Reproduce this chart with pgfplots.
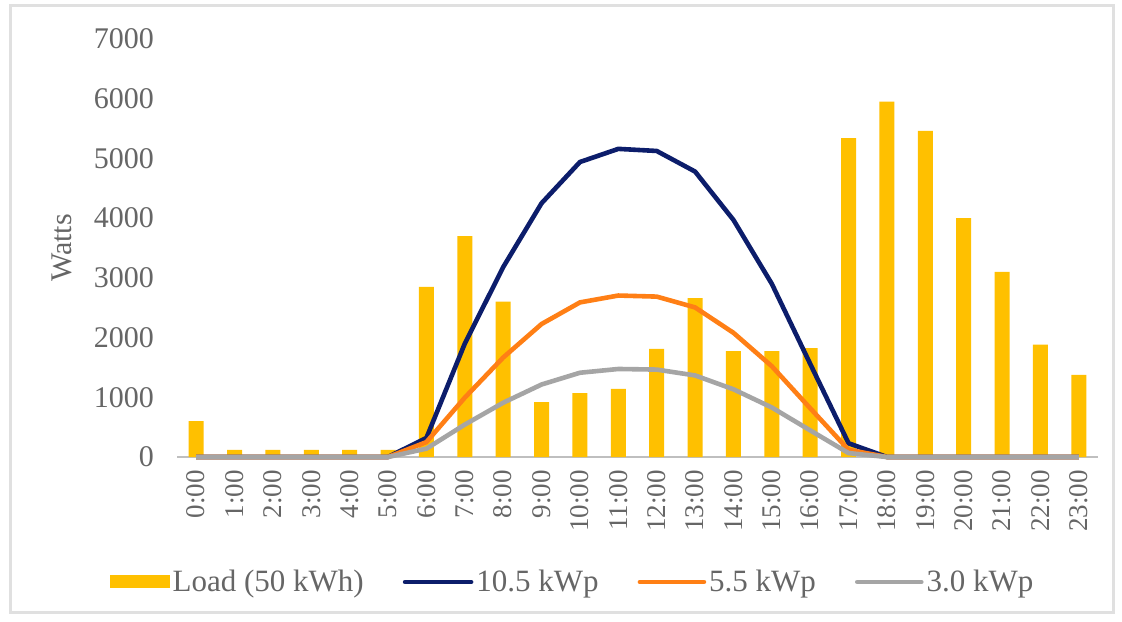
\documentclass[border=0pt]{standalone}
\usepackage{fontspec}
\setmainfont{Liberation Serif}
\usepackage{pgfplots}
\usepackage{pgfplotstable}
\pgfplotsset{compat=1.18}
\definecolor{barY}{HTML}{FFC000}
\definecolor{navyL}{HTML}{0C1D6B}
\definecolor{orangeL}{HTML}{FF7F15}
\definecolor{grayL}{HTML}{A5A5A5}
\definecolor{txt}{HTML}{666666}
\definecolor{axl}{HTML}{BFBFBF}

\pgfplotstableread{
h load pa pb pc
0 600 0 0 0
1 120 0 0 0
2 120 0 0 0
3 120 0 0 0
4 120 0 0 0
5 120 0 0 0
6 2850 320 250 140
7 3700 1900 995 543
8 2600 3180 1666 909
9 920 4250 2227 1214
10 1070 4940 2589 1411
11 1140 5160 2704 1474
12 1810 5125 2686 1464
13 2660 4780 2505 1366
14 1775 3970 2080 1134
15 1775 2900 1520 829
16 1825 1560 817 446
17 5340 230 120 66
18 5950 0 0 0
19 5460 0 0 0
20 4000 0 0 0
21 3100 0 0 0
22 1880 0 0 0
23 1375 0 0 0
}\datatable

\begin{document}
\begin{tikzpicture}[x=1pt,y=1pt]
\useasboundingbox (0,0) rectangle (561,310.5);
\fill[white] (0,0) rectangle (561,310.5);
\draw[black!12, line width=1.5pt] (5,4.5) rectangle (556.5,307.5);
\begin{axis}[
  at={(88.5pt,82pt)}, anchor=south west,
  width=460.5pt, height=209pt, scale only axis,
  xmin=-0.5, xmax=23.5, ymin=0, ymax=7000,
  axis x line*=bottom, axis y line*=left,
  x axis line style={draw=axl, line width=1pt, -},
  y axis line style={draw=none},
  major tick length=0pt,
  xtick={0,...,23},
  xticklabels={0:00,1:00,2:00,3:00,4:00,5:00,6:00,7:00,8:00,9:00,10:00,11:00,12:00,13:00,14:00,15:00,16:00,17:00,18:00,19:00,20:00,21:00,22:00,23:00},
  ytick={0,1000,...,7000},
  scaled y ticks=false,
  /pgf/number format/assume math mode=true,
  yticklabel={\pgfmathprintnumber[fixed,precision=0,1000 sep={}]{\tick}},
  yticklabel style={font=\fontsize{15}{18}\selectfont, text=txt, xshift=-8pt},
  xticklabel style={font=\fontsize{13.5}{16}\selectfont, text=txt, rotate=90, anchor=east, xshift=-3pt},
  ylabel={Watts},
  ylabel style={font=\fontsize{15}{18}\selectfont, text=txt, at={(axis description cs:-0.125,0.5)}, anchor=center},
  clip=false,
  legend columns=4,
  legend style={draw=none, fill=none, font=\fontsize{15.5}{18}\selectfont, text=txt,
    at={(axis description cs:0.43,-0.299)}, anchor=center,
    /tikz/every even column/.append style={column sep=18pt},
    nodes={inner sep=1.5pt}},
]
\addplot[ybar, bar width=7.5pt, fill=barY, draw=none,
  legend image code/.code={\fill[barY] (0pt,-3.25pt) rectangle (30pt,3.25pt);}]
  table[x=h,y=load]{\datatable};
\addlegendentry{Load (50 kWh)}
\addplot[navyL, line width=2.3pt, mark=none, line join=round,
  legend image code/.code={\draw[navyL, line width=2.3pt, line cap=round] (0pt,0pt) -- (33pt,0pt);}]
  table[x=h,y=pa]{\datatable};
\addlegendentry{10.5 kWp}
\addplot[orangeL, line width=2.3pt, mark=none, line join=round,
  legend image code/.code={\draw[orangeL, line width=2.3pt, line cap=round] (0pt,0pt) -- (32pt,0pt);}]
  table[x=h,y=pb]{\datatable};
\addlegendentry{5.5 kWp}
\addplot[grayL, line width=2.3pt, mark=none, line join=round,
  legend image code/.code={\draw[grayL, line width=2.3pt, line cap=round] (0pt,0pt) -- (32pt,0pt);}]
  table[x=h,y=pc]{\datatable};
\addlegendentry{3.0 kWp}
\end{axis}
\end{tikzpicture}
\end{document}
